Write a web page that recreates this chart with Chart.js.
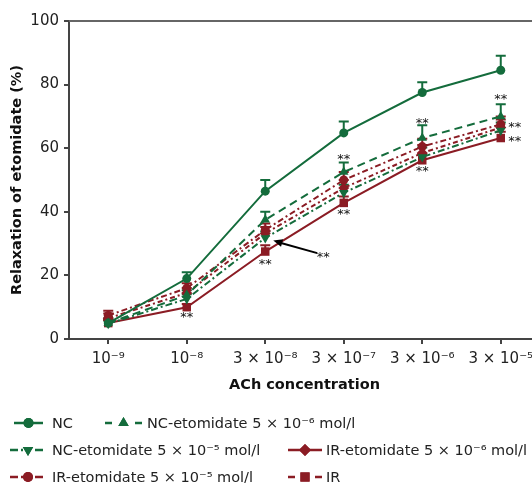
<!DOCTYPE html>
<html><head><meta charset="utf-8">
<script src="https://cdn.jsdelivr.net/npm/chart.js@4.4.1/dist/chart.umd.min.js"></script>
<style>
html,body{margin:0;padding:0;background:#fff;overflow:hidden;width:532px;height:483px;}
#wrap{position:absolute;left:0;top:0;width:546px;height:483px;}
</style></head>
<body><div id="wrap"><canvas id="c" width="546" height="483"></canvas></div>
<script>
// ---- data ----
const categories = ["10\u207B\u2079", "10\u207B\u2078", "3 \u00D7 10\u207B\u2078", "3 \u00D7 10\u207B\u2077", "3 \u00D7 10\u207B\u2076", "3 \u00D7 10\u207B\u2075"];
const nc        = [5.0, 19.0, 46.5, 64.8, 77.5, 84.5];
const ncEto6    = [5.0, 13.8, 37.5, 52.5, 63.2, 70.0];
const ncEto5    = [4.8, 12.6, 31.8, 46.0, 57.2, 65.6];
const irEto6    = [6.5, 14.5, 33.2, 47.5, 58.5, 66.5];
const irEto5    = [7.4, 16.0, 34.3, 50.0, 60.5, 67.5];
const ir        = [5.0, 10.0, 27.5, 42.8, 56.2, 63.2];
const ncErr     = [1.5, 2.0, 3.5, 3.6, 3.2, 4.6];
const ncEto6Err = [1.0, 1.5, 2.5, 3.0, 4.0, 3.8];
const ncEto5Err = [1.0, 1.5, 2.0, 2.5, 3.0, 2.5];
const irEto6Err = [1.5, 1.5, 2.0, 2.5, 2.5, 2.5];
const irEto5Err = [1.5, 1.5, 2.0, 2.5, 2.5, 2.5];
const irErr     = [1.0, 1.0, 2.0, 2.0, 2.0, 2.0];
const yTicks    = [0, 20, 40, 60, 80, 100];
// significance marks: category index, value (y position in %)
const starIdx   = [1, 2, 3, 3, 4, 4, 5, 5, 5];
const starVal   = [7.6, 24.3, 57.5, 40.0, 68.6, 53.7, 76.1, 67.3, 63.1];
const starDx    = [0, 0, 0, 0, 0, 0, 0, 14, 14];
// arrow annotation (category 2): tip value, tail value, label value
const arrowVals = [31.0, 27.0, 26.4];

const GREEN = '#146c3c', RED = '#8b1c24';
const FONT = 'DejaVu Sans';

// legend symbol kind: 'solid', 'dash' (- o -), 'dashdot' (-·o-)
const series = [
  {label:'NC', data:nc, err:ncErr, color:GREEN, dash:[], leg:'solid', style:'circle', r:4.5, rot:0},
  {label:'NC-etomidate 5 \u00D7 10\u207B\u2076 mol/l', data:ncEto6, err:ncEto6Err, color:GREEN, dash:[8,5], leg:'dash', style:'triangle', r:5.5, rot:0},
  {label:'NC-etomidate 5 \u00D7 10\u207B\u2075 mol/l', data:ncEto5, err:ncEto5Err, color:GREEN, dash:[7,3,2,3], leg:'dashdot', style:'triangle', r:5.5, rot:180},
  {label:'IR-etomidate 5 \u00D7 10\u207B\u2076 mol/l', data:irEto6, err:irEto6Err, color:RED, dash:[5,3,2,3], leg:'solid', style:'rectRot', r:5.5, rot:0},
  {label:'IR-etomidate 5 \u00D7 10\u207B\u2075 mol/l', data:irEto5, err:irEto5Err, color:RED, dash:[6,3,2,3], leg:'dashdot', style:'circle', r:4.5, rot:0},
  {label:'IR', data:ir, err:irErr, color:RED, dash:[], leg:'dash', style:'rect', r:6, rot:0},
];

const errPlugin = {
  id:'errbars',
  beforeDatasetsDraw(chart){
    const {ctx, scales:{x,y}} = chart;
    ctx.save();
    series.forEach(s=>{
      ctx.strokeStyle = s.color; ctx.lineWidth = 2; ctx.setLineDash([]);
      s.data.forEach((v,i)=>{
        const px = x.getPixelForValue(i);
        const y0 = y.getPixelForValue(v), y1 = y.getPixelForValue(v + s.err[i]);
        ctx.beginPath(); ctx.moveTo(px,y0); ctx.lineTo(px,y1);
        ctx.moveTo(px-5,y1); ctx.lineTo(px+5,y1); ctx.stroke();
      });
    });
    ctx.restore();
  },
  afterDraw(chart){
    const {ctx, chartArea:ca, scales:{x,y}} = chart;
    ctx.save();
    // top frame line
    ctx.strokeStyle = '#666'; ctx.lineWidth = 2;
    ctx.beginPath(); ctx.moveTo(ca.left, ca.top); ctx.lineTo(ca.right, ca.top); ctx.stroke();
    // stars
    ctx.fillStyle = '#111'; ctx.font = '13px ' + FONT; ctx.textAlign = 'center'; ctx.textBaseline = 'middle';
    starIdx.forEach((ix,k)=>{
      ctx.fillText('**', x.getPixelForValue(ix) + starDx[k], y.getPixelForValue(starVal[k]) + 3);
    });
    // arrow
    const tipX = x.getPixelForValue(2) + 8, tipY = y.getPixelForValue(arrowVals[0]);
    const tailX = x.getPixelForValue(2) + 52, tailY = y.getPixelForValue(arrowVals[1]);
    ctx.strokeStyle = '#000'; ctx.lineWidth = 2;
    ctx.beginPath(); ctx.moveTo(tailX, tailY); ctx.lineTo(tipX+6, tipY+2); ctx.stroke();
    const ang = Math.atan2(tipY - tailY, tipX - tailX);
    ctx.fillStyle = '#000';
    ctx.beginPath(); ctx.moveTo(tipX, tipY);
    ctx.lineTo(tipX - 10*Math.cos(ang-0.4), tipY - 10*Math.sin(ang-0.4));
    ctx.lineTo(tipX - 10*Math.cos(ang+0.4), tipY - 10*Math.sin(ang+0.4));
    ctx.closePath(); ctx.fill();
    ctx.fillStyle = '#111'; ctx.font = '13px ' + FONT;
    ctx.fillText('**', x.getPixelForValue(2) + 58, y.getPixelForValue(arrowVals[2]) + 3);
    // legend
    const rows = [[0,1],[2,3],[4,5]];
    const rowY = [423, 450, 477];
    const colSym = [[14,43,52],[105,142,147]];
    const colSym2 = [[10,43,52],[288,322,326]];
    ctx.font = '14.5px ' + FONT; ctx.textAlign = 'left'; ctx.textBaseline = 'middle';
    rows.forEach((row,ri)=>{
      row.forEach((si,ci)=>{
        const s = series[si];
        const pos = ri===0 ? colSym[ci] : colSym2[ci];
        const yy = rowY[ri];
        const a = pos[0], b = pos[1], m = (a+b)/2;
        ctx.strokeStyle = s.color; ctx.lineWidth = 2.5; ctx.setLineDash([]);
        ctx.beginPath();
        if (s.leg === 'solid') { ctx.moveTo(a, yy); ctx.lineTo(b, yy); }
        else if (s.leg === 'dash') { ctx.moveTo(a, yy); ctx.lineTo(a+7, yy); ctx.moveTo(b-7, yy); ctx.lineTo(b, yy); }
        else { ctx.moveTo(a, yy); ctx.lineTo(a+8, yy); ctx.moveTo(a+11, yy); ctx.lineTo(a+13, yy); ctx.moveTo(b-8, yy); ctx.lineTo(b, yy); }
        ctx.stroke();
        ctx.fillStyle = s.color;
        Chart.helpers.drawPoint(ctx, {pointStyle:s.style, radius:s.r+0.5, rotation:s.rot, borderWidth:0}, s.leg==='dashdot' ? m+1.5 : m, yy);
        ctx.fill();
        ctx.fillStyle = '#222';
        ctx.fillText(s.label, pos[2], yy+1);
      });
    });
    ctx.restore();
  }
};

new Chart(document.getElementById('c'), {
  type:'line',
  data:{
    labels: categories,
    datasets: series.map(s=>({
      label:s.label, data:s.data, borderColor:s.color, backgroundColor:s.color,
      borderWidth:2, borderDash:s.dash, pointStyle:s.style, pointRadius:s.r,
      pointRotation:s.rot, pointBorderWidth:0, pointBackgroundColor:s.color,
      tension:0, fill:false
    }))
  },
  plugins:[errPlugin],
  options:{
    responsive:false, animation:false, devicePixelRatio:1,
    layout:{padding:{top:21, right:4, bottom:84, left:0}},
    plugins:{legend:{display:false}, tooltip:{enabled:false}},
    scales:{
      x:{
        offset:true,
        grid:{drawOnChartArea:false, drawTicks:true, tickLength:5, color:'#444', lineWidth:2},
        border:{color:'#444', width:2},
        ticks:{color:'#222', font:{family:FONT, size:15}, padding:6, maxRotation:0, autoSkip:false},
        title:{display:true, text:'ACh concentration', color:'#111', font:{family:FONT, size:14.5, weight:'bold'}, padding:{top:0,bottom:5}},
        afterFit(s){ s.height = 60; }
      },
      y:{
        min:0, max:100,
        afterBuildTicks(s){ s.ticks = yTicks.map(v=>({value:v})); },
        grid:{drawOnChartArea:false, drawTicks:true, tickLength:5, color:'#444', lineWidth:2},
        border:{color:'#444', width:2},
        ticks:{color:'#222', font:{family:FONT, size:15}, padding:5},
        title:{display:true, text:'Relaxation of etomidate (%)', color:'#111', font:{family:FONT, size:14.5, weight:'bold'}, padding:{top:9,bottom:0}},
        afterFit(s){ s.width = 69; }
      }
    }
  }
});
</script>
</body></html>
